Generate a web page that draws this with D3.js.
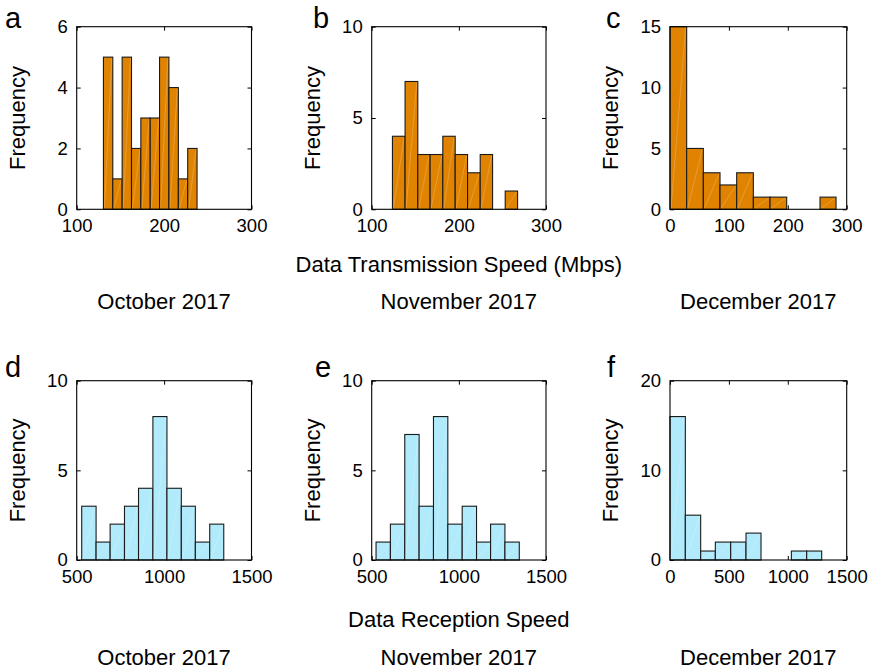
<!DOCTYPE html>
<html>
<head>
<meta charset="utf-8">
<script src="https://cdn.jsdelivr.net/npm/d3@7"></script>
<style>
  body { margin: 0; background: #fff; }
  svg { display: block; font-family: "Liberation Sans", Arial, Helvetica, sans-serif; }
</style>
</head>
<body>
<svg id="chart" width="872" height="671"></svg>
<script>
// bin edges and counts
const octTxEdges = [130.6, 141.3, 152.0, 162.7, 173.4, 184.1, 194.8, 205.5, 216.3, 227.0, 237.7];
const octTxCounts = [5, 1, 5, 2, 3, 3, 5, 4, 1, 2];
const novTxEdges = [123.8, 138.3, 152.9, 167.0, 181.6, 195.8, 210.0, 224.5, 238.7, 253.2, 267.4];
const novTxCounts = [4, 7, 3, 3, 4, 3, 2, 3, 0, 1];
const decTxEdges = [0, 28.3, 56.6, 84.9, 113.2, 141.5, 169.8, 198.1, 226.4, 254.7, 281.9];
const decTxCounts = [15, 5, 3, 2, 3, 1, 1, 0, 0, 1];

const octRxEdges = [528.7, 610.9, 691.2, 773.4, 853.7, 935.9, 1016.3, 1098.5, 1178.8, 1261.0, 1341.3];
const octRxCounts = [3, 1, 2, 3, 4, 8, 4, 3, 1, 2];
const novRxEdges = [524.9, 607.3, 689.7, 772.0, 854.4, 936.8, 1019.2, 1101.5, 1182.0, 1264.4, 1346.7];
const novRxCounts = [1, 2, 7, 3, 8, 2, 3, 1, 2, 1];
const decRxEdges = [0, 130.2, 260.4, 384.9, 515.1, 645.3, 772.6, 902.8, 1030.2, 1160.4, 1287.7];
const decRxCounts = [16, 5, 1, 2, 2, 3, 0, 0, 1, 1];

// tick labels
const txTicksOctNov = [100, 200, 300];
const txTicksDec = [0, 100, 200, 300];
const rxTicksOctNov = [500, 1000, 1500];
const rxTicksDec = [0, 500, 1000, 1500];
const yTicksOctTx = [0, 2, 4, 6];
const yTicks10 = [0, 5, 10];
const yTicks15 = [0, 5, 10, 15];
const yTicks20 = [0, 10, 20];

const months = ["October 2017", "November 2017", "December 2017"];
const txTitle = "Data Transmission Speed (Mbps)";
const rxTitle = "Data Reception Speed";

const orange = "#e08300";
const blue = "#b0eafb";

const svg = d3.select("#chart");

const panels = [
  { letter: "a", edges: octTxEdges, counts: octTxCounts, xTicks: txTicksOctNov, yTicks: yTicksOctTx, color: orange,
    left: 76.7, right: 251.5, top: 26.7, bottom: 209.3, letterX: 5 },
  { letter: "b", edges: novTxEdges, counts: novTxCounts, xTicks: txTicksOctNov, yTicks: yTicks10, color: orange,
    left: 371.7, right: 546, top: 26.7, bottom: 209.3, letterX: 313 },
  { letter: "c", edges: decTxEdges, counts: decTxCounts, xTicks: txTicksDec, yTicks: yTicks15, color: orange,
    left: 670, right: 846.7, top: 26.7, bottom: 209.3, letterX: 606 },
  { letter: "d", edges: octRxEdges, counts: octRxCounts, xTicks: rxTicksOctNov, yTicks: yTicks10, color: blue,
    left: 76.7, right: 251.5, top: 380.7, bottom: 560, letterX: 5 },
  { letter: "e", edges: novRxEdges, counts: novRxCounts, xTicks: rxTicksOctNov, yTicks: yTicks10, color: blue,
    left: 371.7, right: 546, top: 380.7, bottom: 560, letterX: 315 },
  { letter: "f", edges: decRxEdges, counts: decRxCounts, xTicks: rxTicksDec, yTicks: yTicks20, color: blue,
    left: 670, right: 846.7, top: 380.7, bottom: 560, letterX: 607 }
];

const fmt = d3.format("d");

panels.forEach(p => {
  const x = d3.scaleLinear().domain(d3.extent(p.xTicks)).range([p.left, p.right]);
  const y = d3.scaleLinear().domain(d3.extent(p.yTicks)).range([p.bottom, p.top]);
  const g = svg.append("g");

  // axes with inward ticks on all four sides
  const styleAxis = sel => {
    sel.select(".domain").remove();
    sel.selectAll(".tick line").attr("stroke", "#000").attr("stroke-width", 1);
    sel.selectAll("text").attr("fill", "#000").style("font-size", "18.5px").style("font-family", "inherit");
  };
  g.append("g").attr("transform", `translate(0,${p.bottom})`)
    .call(d3.axisBottom(x).tickValues(p.xTicks).tickSize(-4).tickPadding(10).tickFormat(fmt))
    .call(styleAxis);
  g.append("g").attr("transform", `translate(0,${p.top})`)
    .call(d3.axisTop(x).tickValues(p.xTicks).tickSize(-4).tickFormat(""))
    .call(styleAxis);
  g.append("g").attr("transform", `translate(${p.left},0)`)
    .call(d3.axisLeft(y).tickValues(p.yTicks).tickSize(-4).tickPadding(9).tickFormat(fmt))
    .call(styleAxis);
  g.append("g").attr("transform", `translate(${p.right},0)`)
    .call(d3.axisRight(y).tickValues(p.yTicks).tickSize(-4).tickFormat(""))
    .call(styleAxis);

  // histogram bars
  const bins = p.counts.map((c, i) => ({ x0: p.edges[i], x1: p.edges[i + 1], n: c }));
  const bars = g.append("g").selectAll("g").data(bins).enter().append("g");
  bars.append("rect")
    .attr("x", d => x(d.x0))
    .attr("y", d => y(d.n))
    .attr("width", d => x(d.x1) - x(d.x0))
    .attr("height", d => y(0) - y(d.n))
    .attr("fill", p.color)
    .attr("stroke", "#1a1a1a")
    .attr("stroke-width", 1.1);
  bars.filter(d => d.n > 0).append("line")
    .attr("x1", d => x(d.x0) + 1)
    .attr("y1", y(0) - 1)
    .attr("x2", d => x(d.x1) - 1)
    .attr("y2", d => y(d.n) + 1)
    .attr("stroke", "#fff")
    .attr("stroke-opacity", 0.3)
    .attr("stroke-width", 0.7);

  // box
  g.append("rect")
    .attr("x", p.left).attr("y", p.top)
    .attr("width", p.right - p.left).attr("height", p.bottom - p.top)
    .attr("fill", "none").attr("stroke", "#000").attr("stroke-width", 1.1);

  // y label
  const cy = (p.top + p.bottom) / 2;
  g.append("text")
    .attr("transform", `translate(${p.left - 52},${cy}) rotate(-90)`)
    .attr("text-anchor", "middle")
    .style("font-size", "22px")
    .text("Frequency");

  // panel letter
  g.append("text")
    .attr("x", p.letterX)
    .attr("y", p.top < 100 ? 28 : 377)
    .style("font-size", "29px")
    .text(p.letter);
});

// shared axis titles and month labels
const colCenters = [164, 458.8, 758.3];
svg.append("text").attr("x", colCenters[1]).attr("y", 272)
  .attr("text-anchor", "middle").style("font-size", "22px").text(txTitle);
svg.append("text").attr("x", colCenters[1]).attr("y", 627)
  .attr("text-anchor", "middle").style("font-size", "22px").text(rxTitle);

[309, 665].forEach(base => {
  svg.append("g").selectAll("text").data(months).enter().append("text")
    .attr("x", (d, i) => colCenters[i])
    .attr("y", base)
    .attr("text-anchor", "middle")
    .style("font-size", "22px")
    .text(d => d);
});
</script>
</body>
</html>
